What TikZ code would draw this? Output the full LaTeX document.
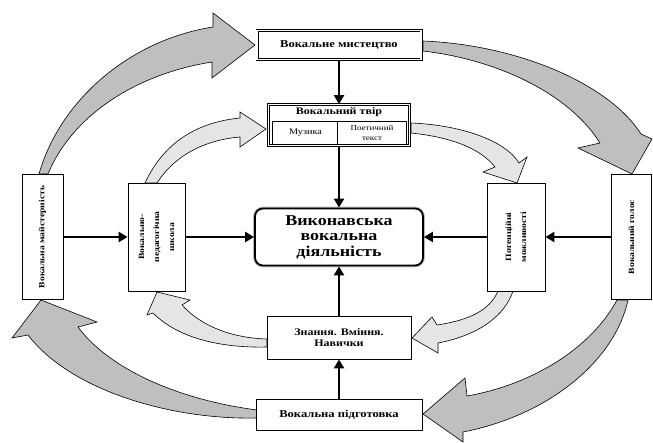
\documentclass[tikz,border=0pt]{standalone}
\usepackage{fontspec}
\setmainfont[FakeStretch=1.2]{Liberation Serif}
\usetikzlibrary{arrows.meta}

\tikzset{
  box/.style={draw, line width=0.8pt, fill=white, align=center, inner sep=0pt, font=\bfseries},
  dbox/.style={box, double, double distance=1.4pt, line width=0.8pt},
  sidebox/.style={box, rotate=90, font=\bfseries\fontsize{8}{15}\selectfont},
  link/.style={line width=2.6pt, -{Triangle[length=9pt,width=10pt]}},
  outer/.style={draw, line width=0.6pt, fill=gray!50},
  inner/.style={draw, line width=0.6pt, fill=gray!20},
}

\begin{document}
\begin{tikzpicture}[x=1pt,y=-1pt]
  \useasboundingbox (0,0) rectangle (653,443);

  % big outer ring
  \draw[outer] (39,174) .. controls (60,100) and (130,40) .. (213,27) -- (213,13) -- (255,45) -- (212,78) -- (212,62)
    .. controls (130,75) and (70,120) .. (48,174) -- cycle;
  \draw[outer] (423,41) .. controls (520,45) and (610,85) .. (641,134) -- (652,139) -- (632,174) -- (578,148) -- (600,143)
    .. controls (570,95) and (500,60) .. (423,51) -- cycle;
  \draw[outer] (628,300) .. controls (615,360) and (550,415) .. (463,432) -- (463,442) -- (423,414) -- (465,378) -- (467,396)
    .. controls (530,385) and (590,350) .. (617,300) -- cycle;
  \draw[outer] (257,418) .. controls (170,420) and (70,390) .. (28,335) -- (12,338) -- (41,300) -- (97,322) -- (78,327)
    .. controls (110,370) and (180,400) .. (257,410) -- cycle;

  % small inner ring
  \draw[inner] (145,183) .. controls (165,140) and (200,122) .. (240,118) -- (240,112) -- (266,129) -- (240,147) -- (240,137)
    .. controls (205,140) and (175,155) .. (157,183) -- cycle;
  \draw[inner] (411,123) .. controls (460,125) and (505,140) .. (519,163) -- (527,157) -- (517,183) -- (483,172) -- (495,167)
    .. controls (480,148) and (450,137) .. (411,133) -- cycle;
  \draw[inner] (513,291) .. controls (505,315) and (480,335) .. (438,343) -- (438,353) -- (412,338) -- (432,317) -- (437,325)
    .. controls (470,320) and (490,310) .. (498,291) -- cycle;
  \draw[inner] (267,347) .. controls (225,348) and (180,340) .. (153,313) -- (147,315) -- (157,292) -- (190,300) -- (182,305)
    .. controls (200,325) and (230,338) .. (267,339) -- cycle;

  % boxes
  \node[dbox, minimum width=164, minimum height=29, font=\bfseries\fontsize{10.5}{12}\selectfont] (myst) at (339,45) {Вокальне мистецтво};
  \node[dbox, minimum width=141, minimum height=41] (tvir) at (339,125) {};
  \node[font=\bfseries\fontsize{10}{12}\selectfont] (tvirt) at (339,112.5) {Вокальний твір};
  \node[box, font=\fontsize{8.5}{10}\selectfont, minimum width=66, minimum height=23, line width=0.6pt] (muz) at (305.5,132.5) {Музика};
  \node[box, font=\fontsize{7.5}{10}\selectfont, minimum width=69, minimum height=23, line width=0.6pt] (poet) at (372,132.5) {Поетичний\\текст};
  \node[box, minimum width=168, minimum height=57, rounded corners=8pt, line width=1.8pt,
    preaction={draw=gray!55, line width=3.8pt}, font=\bfseries\fontsize{15}{15.5}\selectfont] (vyk) at (339,237) {Виконавська\\вокальна\\діяльність};
  \node[sidebox, minimum width=125, minimum height=41] (maist) at (42.5,237) {Вокальна майстерність};
  \node[sidebox, minimum width=108, minimum height=57] (shkola) at (156.5,237) {Вокально-\\педагогічна\\школа};
  \node[sidebox, minimum width=108, minimum height=58] (mozhl) at (516,237) {Потенційні\\можливості};
  \node[sidebox, minimum width=125, minimum height=40] (holos) at (631.5,237) {Вокальний голос};
  \node[box, minimum width=144, minimum height=43, font=\bfseries\fontsize{10}{11.5}\selectfont] (znan) at (339,337.5) {Знання. Вміння.\\Навички};
  \node[box, minimum width=166, minimum height=31, line width=1pt, font=\bfseries\fontsize{10.5}{12}\selectfont] (pidh) at (339,414.5) {Вокальна підготовка};

  % arrows
  \draw[link] (myst) -- (tvir);
  \draw[link] (tvir) -- (vyk);
  \draw[link] (maist) -- (shkola);
  \draw[link] (shkola) -- (vyk);
  \draw[link] (holos) -- (mozhl);
  \draw[link] (mozhl) -- (vyk);
  \draw[link] (pidh) -- (znan);
  \draw[link] (znan) -- (vyk);
\end{tikzpicture}
\end{document}
